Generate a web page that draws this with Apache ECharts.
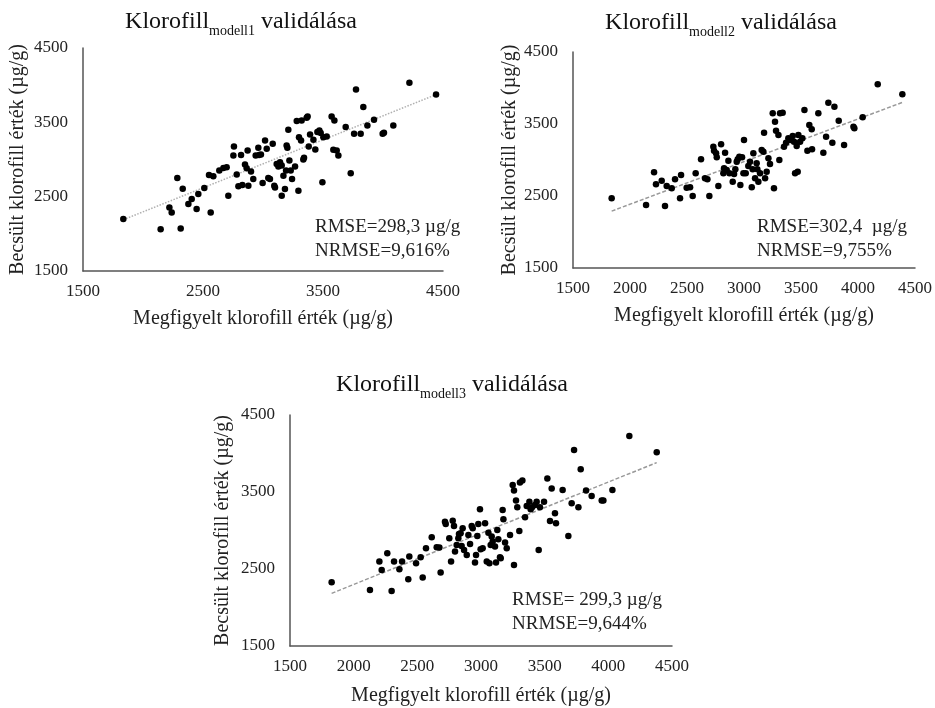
<!DOCTYPE html>
<html>
<head>
<meta charset="utf-8">
<script src="https://cdn.jsdelivr.net/npm/echarts@6/dist/echarts.min.js"></script>
<style>
html,body{margin:0;padding:0;background:#fff;}
#chart{width:935px;height:708px;}
</style>
</head>
<body>
<div id="chart"></div>
<script>
// ---- Data ----
const xTicks1 = [1500, 2500, 3500, 4500];
const xTicks23 = [1500, 2000, 2500, 3000, 3500, 4000, 4500];
const yTicks = [1500, 2500, 3500, 4500];

const titles = ['modell1', 'modell2', 'modell3'];
const rmseText = ['RMSE=298,3 µg/g', 'RMSE=302,4  µg/g', 'RMSE= 299,3 µg/g'];
const nrmseText = ['NRMSE=9,616%', 'NRMSE=9,755%', 'NRMSE=9,644%'];

// Model 1: observed vs estimated
const obs1 = [1836,2147,2314,2220,2239,2286,2331,2378,2406,2447,2461,2511,2550,2564,2586,2636,2670,2697,2711,2758,2753,2781,2795,2817,2828,2850,2864,2872,2878,2900,2919,2939,2961,2967,2983,2997,3017,3031,3044,3058,3081,3094,3100,3114,3128,3142,3156,3156,3170,3183,3192,3197,3203,3211,3220,3231,3242,3267,3281,3295,3300,3317,3322,3336,3342,3364,3372,3381,3392,3420,3436,3453,3470,3481,3495,3503,3531,3572,3595,3586,3614,3628,3689,3731,3759,3775,3814,3836,3870,3925,3997,4008,4086,4220,4442];
const est1 = [2198,2063,2072,2355,2288,2752,2607,2400,2468,2333,2535,2616,2792,2288,2774,2851,2887,2896,2513,3175,3053,2797,2639,3062,2657,2932,2882,3121,2648,2837,2738,3053,3157,3062,3067,2684,3256,3143,2752,2738,3211,2648,2625,2941,2905,2963,2918,2513,2783,2603,2851,3189,3157,3400,2986,2851,2738,2905,3517,2580,3301,3256,3526,3000,3022,3562,3580,3175,3337,3265,3134,3369,3391,3355,2693,3301,3310,3580,3526,3130,3121,3053,3436,2815,3346,3941,3346,3706,3459,3535,3346,3360,3459,4031,3873];
const trend1 = [[1836, 2190], [4442, 3873]];

// Model 2
const obs2 = [1839,2141,2307,2211,2228,2278,2322,2366,2395,2439,2448,2497,2527,2550,2576,2623,2658,2679,2696,2731,2737,2755,2775,2799,2761,2819,2834,2825,2848,2863,2872,2901,2913,2924,2936,2945,2959,2968,2983,3000,2995,3015,3038,3053,3068,3076,3082,3097,3111,3117,3126,3141,3155,3170,3176,3185,3199,3214,3228,3252,3263,3272,3281,3302,3310,3316,3339,3351,3369,3389,3404,3427,3439,3448,3462,3471,3477,3492,3512,3530,3556,3573,3594,3597,3652,3696,3720,3740,3775,3793,3831,3878,3960,3968,4041,4173,4389];
const est2 = [2468,2375,2361,2829,2662,2713,2639,2606,2731,2468,2792,2616,2620,2500,2815,3009,2745,2731,2500,3185,3130,3093,2639,3218,3037,2815,3102,2884,2861,2991,2815,2699,2806,2870,2977,3009,3046,2653,3037,3278,2815,2815,2917,2977,2620,2870,3093,2745,2954,2870,2699,2815,3139,3116,3380,2745,2838,3023,2944,3648,2606,3532,3407,3347,3000,3648,3657,3185,3241,3301,3278,3333,3255,2815,3194,2838,3347,3255,3301,3694,3130,3486,3426,3148,3648,3102,3324,3796,3241,3741,3546,3208,3463,3440,3593,4051,3912];
const trend2 = [[1839, 2290], [4389, 3800]];

// Model 3
const obs3 = [1827,2128,2298,2202,2220,2264,2317,2359,2380,2429,2437,2490,2526,2542,2568,2613,2652,2673,2683,2717,2723,2751,2765,2778,2788,2796,2809,2822,2827,2840,2848,2856,2867,2888,2901,2914,2927,2935,2953,2961,2971,2979,2992,2997,3013,3032,3045,3058,3066,3076,3084,3092,3110,3118,3128,3136,3149,3155,3170,3176,3189,3202,3228,3249,3259,3259,3275,3285,3301,3306,3325,3346,3359,3380,3390,3401,3424,3437,3453,3463,3495,3521,3542,3555,3581,3589,3641,3686,3712,3731,3765,3783,3825,3869,3948,3961,4032,4165,4380];
const est3 = [2327,2228,2215,2596,2488,2704,2596,2496,2596,2366,2661,2574,2652,2388,2769,2912,2782,2778,2453,3115,3085,2899,2596,3128,3059,2726,2812,2899,2955,2964,2799,3029,2747,2682,2942,2825,3059,3029,2583,2682,2929,3085,3276,2756,2769,3094,2596,2972,2574,2812,2921,2856,2791,2583,3007,2886,2652,2639,3267,3146,2843,2769,2942,3592,2553,3518,3388,3302,2994,3622,3648,3172,3319,3375,3276,3302,3332,3375,2747,3302,3375,3674,3124,3544,3224,3094,3527,2929,3354,4046,3302,3795,3518,3449,3388,3388,3527,4228,4016];
const trend3 = [[1827, 2184], [4380, 3882]];

// ---- Layout / style ----
const SERIF = '"Liberation Serif", "Times New Roman", serif';
const grids = [
  {left: 83, top: 48, width: 360, height: 223},
  {left: 573, top: 52, width: 342, height: 216},
  {left: 290, top: 415, width: 382, height: 231}
];
const titlePos = [{x: 236, y: 5}, {x: 716, y: 6}, {x: 447, y: 368}];
const notePos = [{x: 315, y: 215}, {x: 757, y: 215}, {x: 512, y: 588}];
const yNameGap = [55, 49, 57];
const xNameGap = [38, 38, 40];

function zip(a, b) { return a.map((v, i) => [v, b[i]]); }
const scatterData = [zip(obs1, est1), zip(obs2, est2), zip(obs3, est3)];
const trends = [trend1, trend2, trend3];
const xTickSets = [xTicks1, xTicks23, xTicks23];

const axisLineStyle = {color: '#555', width: 1.5};
const labelStyle = {color: '#222', fontFamily: SERIF, fontSize: 17, formatter: v => String(v)};

const option = {
  backgroundColor: '#fff',
  animation: false,
  title: titles.map((t, i) => ({
    text: '{a|Klorofill}{b|' + t + '}{a| validálása}',
    left: titlePos[i].x, top: titlePos[i].y,
    textAlign: 'center',
    textStyle: {
      fontWeight: 'normal',
      rich: {
        a: {fontFamily: SERIF, fontSize: 24, fontWeight: 'normal', color: '#111', lineHeight: 30, verticalAlign: 'top'},
        b: {fontFamily: SERIF, fontSize: 14, fontWeight: 'normal', color: '#111', lineHeight: 17, padding: [14, 0, 0, 0], verticalAlign: 'top'}
      }
    }
  })),
  grid: grids,
  xAxis: grids.map((g, i) => ({
    type: 'value', gridIndex: i,
    min: 1500, max: 4500,
    interval: xTickSets[i][1] - xTickSets[i][0],
    name: 'Megfigyelt klorofill érték (µg/g)',
    nameLocation: 'middle', nameGap: xNameGap[i],
    nameTextStyle: {fontFamily: SERIF, fontSize: 20, color: '#222'},
    axisLine: {show: true, lineStyle: axisLineStyle},
    axisTick: {show: false},
    splitLine: {show: false},
    axisLabel: Object.assign({margin: 12}, labelStyle)
  })),
  yAxis: grids.map((g, i) => ({
    type: 'value', gridIndex: i,
    min: 1500, max: 4500, interval: yTicks[1] - yTicks[0],
    name: 'Becsült klorofill érték (µg/g)',
    nameLocation: 'middle', nameGap: yNameGap[i],
    nameTextStyle: {fontFamily: SERIF, fontSize: 20, color: '#222'},
    axisLine: {show: true, lineStyle: axisLineStyle},
    axisTick: {show: false},
    splitLine: {show: false},
    axisLabel: Object.assign({margin: 15}, labelStyle)
  })),
  graphic: notePos.map((p, i) => ({
    type: 'text', left: p.x, top: p.y,
    style: {
      text: rmseText[i] + '\n' + nrmseText[i],
      font: '19px ' + SERIF, fill: '#222', lineHeight: 24
    }
  })),
  series: []
};

for (let i = 0; i < 3; i++) {
  option.series.push({
    type: 'line', xAxisIndex: i, yAxisIndex: i,
    data: trends[i], symbol: 'none', silent: true,
    lineStyle: {color: i === 0 ? '#b0b0b0' : '#999', width: 1.5, type: i === 0 ? 'dotted' : [4, 2]},
    z: 1
  });
  option.series.push({
    type: 'scatter', xAxisIndex: i, yAxisIndex: i,
    data: scatterData[i], symbolSize: 6.5,
    itemStyle: {color: '#000', opacity: 1}, z: 2
  });
}

const chart = echarts.init(document.getElementById('chart'), null, {renderer: 'canvas'});
chart.setOption(option);
</script>
</body>
</html>
